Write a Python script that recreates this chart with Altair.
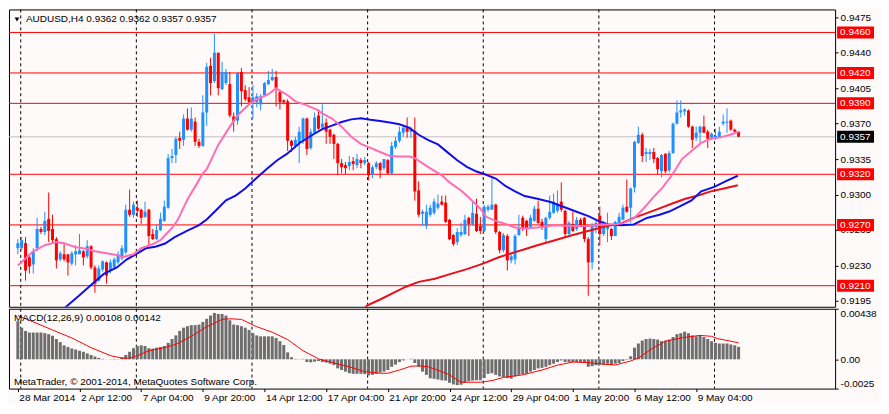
import json
import altair as alt
import pandas as pd

# ---------------- data ----------------
# AUDUSD H4 bars, prices in units of 0.0001
open_pips = [
    9247, 9247, 9252, 9238, 9231, 9247, 9266, 9263, 9276, 9266,
    9256, 9236, 9241, 9241, 9232, 9241, 9241, 9244, 9239, 9249,
    9228, 9215, 9226, 9233, 9225, 9228, 9233, 9237, 9243, 9285,
    9280, 9287, 9285, 9278, 9285, 9261, 9256, 9265, 9274, 9287,
    9336, 9339, 9356, 9354, 9375, 9364, 9372, 9352, 9348, 9381,
    9427, 9412, 9440, 9404, 9410, 9409, 9377, 9373, 9421, 9403,
    9396, 9393, 9391, 9389, 9398, 9409, 9413, 9416, 9401, 9393,
    9392, 9353, 9348, 9351, 9354, 9375, 9346, 9361, 9378, 9366,
    9371, 9364, 9359, 9350, 9331, 9329, 9328, 9333, 9329, 9334,
    9331, 9331, 9320, 9327, 9331, 9326, 9334, 9321, 9347, 9353,
    9361, 9367, 9362, 9363, 9304, 9281, 9269, 9280, 9282, 9287,
    9293, 9292, 9275, 9260, 9253, 9260, 9261, 9277, 9271, 9281,
    9269, 9264, 9285, 9285, 9290, 9263, 9245, 9259, 9235, 9236,
    9260, 9277, 9274, 9268, 9274, 9286, 9273, 9256, 9277, 9282,
    9284, 9293, 9284, 9261, 9271, 9266, 9275, 9277, 9256, 9233,
    9268, 9279, 9261, 9266, 9266, 9259, 9272, 9275, 9288, 9287,
    9307, 9351, 9359, 9340, 9340, 9342, 9336, 9323, 9340, 9324,
    9341, 9370, 9381, 9382, 9383, 9367, 9356, 9361, 9367, 9362,
    9356, 9355, 9357, 9370, 9371, 9373, 9364, 9362,
]
high_pips = [
    9256, 9258, 9258, 9241, 9247, 9277, 9268, 9283, 9302, 9280,
    9258, 9244, 9252, 9241, 9244, 9250, 9261, 9245, 9255, 9250,
    9230, 9230, 9235, 9234, 9236, 9238, 9244, 9250, 9290, 9305,
    9293, 9294, 9286, 9293, 9286, 9266, 9270, 9282, 9294, 9340,
    9345, 9357, 9362, 9379, 9385, 9386, 9376, 9355, 9398, 9430,
    9435, 9459, 9440, 9431, 9424, 9421, 9381, 9421, 9425, 9408,
    9406, 9408, 9400, 9399, 9411, 9422, 9424, 9422, 9403, 9394,
    9394, 9354, 9357, 9367, 9376, 9376, 9365, 9381, 9384, 9389,
    9375, 9365, 9360, 9351, 9335, 9332, 9338, 9337, 9340, 9336,
    9337, 9332, 9329, 9333, 9332, 9335, 9335, 9352, 9357, 9367,
    9368, 9376, 9367, 9376, 9313, 9285, 9290, 9290, 9296, 9300,
    9299, 9299, 9276, 9261, 9267, 9272, 9280, 9278, 9293, 9296,
    9278, 9290, 9290, 9316, 9291, 9264, 9262, 9261, 9241, 9261,
    9280, 9279, 9275, 9280, 9289, 9294, 9276, 9278, 9299, 9301,
    9304, 9312, 9285, 9274, 9283, 9278, 9277, 9278, 9258, 9272,
    9274, 9288, 9274, 9282, 9267, 9274, 9282, 9290, 9315, 9307,
    9353, 9367, 9361, 9346, 9345, 9346, 9337, 9340, 9341, 9343,
    9371, 9393, 9393, 9385, 9384, 9368, 9367, 9368, 9378, 9364,
    9361, 9365, 9367, 9379, 9385, 9374, 9365, 9362,
]
low_pips = [
    9241, 9245, 9215, 9222, 9222, 9244, 9261, 9260, 9253, 9253,
    9227, 9234, 9234, 9220, 9230, 9230, 9241, 9230, 9237, 9226,
    9203, 9214, 9224, 9212, 9222, 9226, 9231, 9235, 9241, 9278,
    9277, 9278, 9271, 9277, 9250, 9255, 9255, 9264, 9273, 9286,
    9331, 9331, 9345, 9348, 9363, 9362, 9348, 9346, 9347, 9368,
    9398, 9410, 9398, 9403, 9408, 9376, 9362, 9369, 9387, 9392,
    9389, 9375, 9386, 9383, 9397, 9408, 9412, 9387, 9384, 9389,
    9343, 9342, 9346, 9331, 9350, 9339, 9344, 9360, 9364, 9365,
    9350, 9350, 9335, 9319, 9321, 9320, 9324, 9324, 9326, 9326,
    9329, 9314, 9316, 9325, 9316, 9324, 9320, 9320, 9345, 9351,
    9357, 9356, 9356, 9294, 9278, 9269, 9266, 9278, 9280, 9285,
    9289, 9272, 9255, 9249, 9250, 9258, 9260, 9259, 9269, 9263,
    9261, 9263, 9283, 9285, 9261, 9242, 9243, 9225, 9232, 9231,
    9259, 9264, 9259, 9267, 9273, 9271, 9265, 9253, 9275, 9281,
    9282, 9283, 9258, 9259, 9263, 9264, 9268, 9253, 9200, 9226,
    9262, 9250, 9259, 9253, 9255, 9259, 9271, 9275, 9282, 9272,
    9302, 9350, 9332, 9332, 9334, 9331, 9320, 9317, 9321, 9322,
    9340, 9369, 9376, 9378, 9366, 9346, 9353, 9351, 9361, 9346,
    9354, 9354, 9356, 9368, 9361, 9363, 9361, 9357,
]
close_pips = [
    9252, 9255, 9225, 9229, 9244, 9266, 9263, 9274, 9264, 9255,
    9235, 9242, 9236, 9233, 9242, 9244, 9245, 9238, 9249, 9228,
    9212, 9227, 9234, 9220, 9233, 9236, 9241, 9247, 9285, 9280,
    9290, 9284, 9277, 9283, 9259, 9256, 9265, 9276, 9288, 9336,
    9338, 9355, 9353, 9375, 9364, 9375, 9352, 9348, 9381, 9426,
    9410, 9440, 9405, 9421, 9421, 9378, 9372, 9420, 9402, 9394,
    9391, 9396, 9397, 9397, 9410, 9413, 9416, 9405, 9391, 9391,
    9353, 9348, 9354, 9362, 9375, 9345, 9362, 9376, 9365, 9370,
    9362, 9357, 9350, 9331, 9327, 9326, 9332, 9330, 9335, 9331,
    9334, 9319, 9327, 9331, 9324, 9335, 9321, 9348, 9353, 9362,
    9366, 9362, 9365, 9303, 9280, 9283, 9283, 9287, 9293, 9291,
    9290, 9273, 9256, 9251, 9263, 9263, 9275, 9271, 9282, 9264,
    9264, 9288, 9288, 9290, 9263, 9245, 9260, 9235, 9239, 9259,
    9268, 9266, 9266, 9277, 9286, 9272, 9268, 9277, 9283, 9293,
    9291, 9285, 9261, 9272, 9264, 9275, 9270, 9256, 9233, 9269,
    9272, 9261, 9272, 9269, 9259, 9273, 9278, 9287, 9283, 9306,
    9352, 9359, 9338, 9342, 9342, 9335, 9325, 9339, 9323, 9341,
    9370, 9381, 9383, 9384, 9367, 9354, 9361, 9367, 9361, 9355,
    9360, 9358, 9362, 9372, 9372, 9364, 9362, 9357,
]

# moving averages: (bar index, price in 0.0001)
pink_bar = [0, 4, 7, 10, 12, 15, 17, 20, 23, 26, 27, 30, 32, 35, 37, 39, 40, 41.5, 44, 46.5,
            48, 49, 52, 55, 57, 60, 62, 65, 67, 70, 72, 75, 78, 79, 81.5, 84, 86.5, 89, 91.5, 94,
            96.5, 99, 101.5, 103, 106.5, 110, 112, 115, 117, 120, 121.5, 124, 126.5, 129, 131.5,
            134.8, 139, 144, 148, 151.5, 155, 157.3, 160, 162.3, 164.8, 167.3, 169.8, 172.3,
            174.8, 177.3, 179.8, 182.3, 184.8, 187]
pink_val = [9230, 9244, 9250, 9253, 9252, 9248, 9247, 9244, 9242, 9240, 9238, 9241, 9247, 9251,
            9255, 9263, 9267, 9275, 9295, 9311, 9321, 9325, 9349, 9367, 9378, 9389, 9394, 9399,
            9405, 9398, 9392, 9388, 9383, 9380, 9375, 9367, 9357, 9350, 9346, 9342, 9338, 9337.5,
            9337.5, 9336, 9327, 9319, 9312, 9304, 9297, 9286, 9278, 9274, 9271, 9267.5, 9266.5,
            9267.4, 9269.6, 9269, 9269, 9270.5, 9270.5, 9272, 9277, 9286, 9297, 9307, 9319.5,
            9335, 9343, 9351, 9355, 9356.4, 9359, 9362]
blue_bar = [11, 12.75, 15.7, 19, 22.3, 25.7, 28.2, 30.7, 33.2, 35.7, 38.2, 40.7, 44, 46.9, 49,
            51.5, 54, 56.5, 59, 61.5, 64.8, 67.3, 69.8, 73.2, 76.5, 79, 81.5, 84, 86.5, 89, 91.5,
            94, 96.5, 99, 101.5, 104, 106.5, 109, 111.5, 114, 116.5, 119, 121.5, 124, 126.5, 129,
            131.5, 134.8, 138.2, 141.5, 144.8, 148.2, 150.7, 153.2, 156.5, 159.8, 163.2, 166.5,
            169, 171.5, 174.8, 177.3, 180.7, 184, 186.8]
blue_val = [9184, 9190, 9199.5, 9210.6, 9221.6, 9228, 9235.8, 9241.2, 9246.9, 9248.5, 9251.6,
            9257.9, 9264.3, 9269.6, 9275.3, 9284.8, 9294.3, 9299, 9306, 9314.8, 9325.9, 9333.8,
            9340.1, 9351.1, 9359, 9364.5, 9368, 9371.6, 9374.2, 9375.4, 9373.8, 9372.6, 9371,
            9369.4, 9366, 9359, 9353.6, 9349.5, 9341.6, 9333.8, 9327.4, 9322.7, 9319.5, 9315.8,
            9308.5, 9303.1, 9298.5, 9295.8, 9292.6, 9287.9, 9283.2, 9278.4, 9273.7, 9270.5,
            9269.6, 9270.5, 9276.9, 9280, 9283.2, 9287.9, 9294.2, 9303.1, 9307.5, 9313.8, 9318.5]
red_bar = [89.5, 90.7, 94, 97.3, 100.7, 104, 108.2, 112.3, 116.5, 120.7, 124.8, 129, 131.5, 134.8,
           139.8, 144, 148.2, 152.3, 156.5, 159.8, 163.2, 166.5, 169.8, 173.2, 176.5, 179.8,
           183.2, 186.8]
red_val = [9186, 9190.7, 9196.4, 9202.7, 9209, 9213.8, 9216.9, 9221.7, 9226.4, 9231.8, 9238.1,
           9243.1, 9246, 9250, 9255.4, 9260.1, 9264.2, 9268.3, 9271.5, 9276.9, 9281.6, 9286.3,
           9291.1, 9295.8, 9299, 9303.1, 9305.9, 9309.1]

# MACD(12,26,9) histogram per bar, units of 0.0001
macd_hist = [
    32.9, 27.4, 24.6, 23.2, 23.2, 23.2, 23.2, 22.6, 21.8, 20.4,
    17.6, 14.9, 12.1, 10.7, 9.3, 8.5, 7.4, 6.5, 5.1, 3.7,
    2.4, 1.2, 0.4, 0.1, -0.2, -0.3, 0.2, 1.8, 3.7, 6.5,
    9.6, 11.5, 12.1, 11.5, 9.6, 9.3, 10.1, 10.7, 11.5, 14.3,
    17.6, 20.7, 24.6, 27.4, 28.7, 29.6, 29.6, 30.1, 32.4, 35.1,
    37.9, 40.1, 39.3, 39.3, 37.9, 33.8, 30.1, 29.6, 28.7, 27.4,
    25.4, 22.6, 20.7, 19.9, 19.9, 19.9, 19.9, 18.5, 15.7, 12.4,
    6.0, 1.8, 0.4, 0.2, 0.4, -2.4, -2.6, -2.1, -1.5, -2.4,
    -2.9, -3.8, -5.1, -7.9, -9.3, -10.7, -12.1, -12.6, -12.6, -12.6,
    -12.9, -14.0, -13.5, -12.6, -11.5, -10.7, -9.3, -6.5, -4.6, -2.4,
    -1.0, 0.1, 0.4, -3.2, -6.5, -10.7, -13.5, -16.5, -17.0, -17.6,
    -18.2, -18.5, -20.4, -21.8, -22.4, -22.1, -20.4, -19.0, -18.5, -18.2,
    -18.2, -16.3, -12.6, -12.1, -13.5, -14.9, -15.4, -16.3, -16.8, -14.9,
    -13.5, -12.9, -12.6, -10.7, -9.3, -7.9, -7.4, -6.5, -5.1, -3.8,
    -2.4, -1.0, -2.4, -2.4, -2.4, -2.4, -2.4, -3.2, -6.5, -6.0,
    -5.1, -4.6, -4.6, -3.8, -5.1, -3.8, -3.2, -1.5, -0.4, 2.6,
    10.1, 13.7, 16.2, 17.6, 17.9, 17.6, 17.1, 15.7, 16.2, 17.1,
    19.3, 21.8, 22.6, 24.0, 22.6, 20.7, 19.9, 20.4, 19.3, 17.6,
    15.7, 14.3, 13.7, 13.7, 13.7, 12.9, 12.1, 10.8,
]
signal_bar = [0, 1, 4, 9, 14, 19, 24, 27, 29, 31, 34, 38, 41, 45, 49, 53, 55, 58, 62, 66, 70, 74,
              78, 82, 86, 90, 94, 96, 99, 102, 104, 106.5, 110, 112, 115, 120, 123, 126, 131, 136,
              140, 144, 148, 152, 155, 159, 161, 165, 168, 173, 177, 180, 181.5, 185, 187]
signal_val = [37.9, 36.5, 32.4, 25.4, 18.5, 10.1, 3.2, 1.0, 1.0, 3.2, 7.4, 10.1, 12.9, 19.9, 28.2,
              34.6, 35.1, 34.6, 28.2, 23.5, 17.1, 7.4, 0.4, -3.2, -6.5, -10.7, -12.1, -12.1, -9.3,
              -6.0, -5.7, -6.5, -10.7, -13.5, -19.9, -19.9, -18.5, -15.7, -13.5, -9.3, -5.1, -2.4,
              -2.9, -4.3, -4.9, -1.5, 1.2, 10.1, 15.7, 19.0, 20.7, 19.9, 17.9, 15.7, 14.2]

x_label_bars = [0, 16, 32, 48, 64, 80, 96, 112, 128, 144, 160, 176]
x_labels = ["28 Mar 2014", "2 Apr 12:00", "7 Apr 04:00", "9 Apr 20:00", "14 Apr 12:00",
            "17 Apr 04:00", "21 Apr 20:00", "24 Apr 12:00", "29 Apr 04:00", "1 May 20:00",
            "6 May 12:00", "9 May 04:00"]
grid_bars = [0.75, 30.75, 60.75, 90.75, 120.75, 150.75, 180.75]
price_ticks = [0.9475, 0.9440, 0.9405, 0.9370, 0.9335, 0.9300, 0.9265, 0.9230, 0.9195]
red_levels = [0.9460, 0.9420, 0.9390, 0.9320, 0.9270, 0.9210]
red_level_labels = ["0.9460", "0.9420", "0.9390", "0.9320", "0.9270", "0.9210"]
current_price = 0.9357
current_label = "0.9357"
macd_ticks = [0.00438, 0.0, -0.0025]
macd_tick_labels = ["0.00438", "0.00", "-0.0025"]
main_title = "AUDUSD,H4  0.9362 0.9362 0.9357 0.9357"
macd_title = "MACD(12,26,9) 0.00108 0.00142"
copyright_text = "MetaTrader, \u00a9 2001-2014, MetaQuotes Software Corp."

# ---------------- tables ----------------
bars = pd.DataFrame({
    "bar": list(range(len(open_pips))),
    "open": [v / 10000 for v in open_pips],
    "high": [v / 10000 for v in high_pips],
    "low": [v / 10000 for v in low_pips],
    "close": [v / 10000 for v in close_pips],
})
bars["color"] = ["#1E90FF" if c >= o else "#FF0000" for o, c in zip(open_pips, close_pips)]

pink = pd.DataFrame({"bar": pink_bar, "v": [v / 10000 for v in pink_val]})
blue = pd.DataFrame({"bar": blue_bar, "v": [v / 10000 for v in blue_val]})
redma = pd.DataFrame({"bar": red_bar, "v": [v / 10000 for v in red_val]})
hist = pd.DataFrame({"bar": list(range(len(macd_hist))),
                     "v": [v / 10000 for v in macd_hist],
                     "base": [0.0] * len(macd_hist)})
signal = pd.DataFrame({"bar": signal_bar, "v": [v / 10000 for v in signal_val]})
grid = pd.DataFrame({"bar": grid_bars})
levels = pd.DataFrame({"price": red_levels})
boxes = pd.DataFrame({"price": red_levels + [current_price],
                      "label": red_level_labels + [current_label],
                      "fill": ["#FF0000"] * len(red_levels) + ["#000000"]})
cur = pd.DataFrame({"price": [current_price]})

# ---------------- layout ----------------
W, H1, H2 = 828, 298, 80
FONT = "Liberation Sans"
BG = "#FFFAFA"

xs = alt.Scale(domain=[-1, 210.75], nice=False, zero=False)
ys = alt.Scale(domain=[0.91892, 0.94827], nice=False, zero=False)
ms = alt.Scale(domain=[-0.00254, 0.00438], nice=False, zero=False)

yaxis = alt.Axis(orient="right", values=price_ticks, format=".4f", title=None,
                 labelOverlap=False, labelFlush=False, tickSize=3, labelPadding=2)
lab_expr = "datum.value > 0.001 ? %s : (datum.value < -0.001 ? %s : %s)" % (
    json.dumps(macd_tick_labels[0]), json.dumps(macd_tick_labels[2]), json.dumps(macd_tick_labels[1]))
maxis = alt.Axis(orient="right", values=macd_ticks, labelExpr=lab_expr, title=None,
                 labelOverlap=False, labelFlush=True, tickSize=3, labelPadding=2)
xlab_expr = json.dumps(x_labels) + "[round(datum.value / 16)]"
xaxis = alt.Axis(orient="bottom", values=x_label_bars, labelExpr=xlab_expr, title=None,
                 labelAlign="left", labelBaseline="top", labelFlush=False, labelOverlap=False,
                 tickSize=3, labelPadding=1, labelOffset=1)

def X(axis=None):
    return alt.X("bar:Q", scale=xs, axis=axis)

# main price panel
lv = alt.Chart(levels).mark_rule(color="#FF0000", strokeWidth=1).encode(
    y=alt.Y("price:Q", scale=ys, axis=yaxis))
curline = alt.Chart(cur).mark_rule(color="#C0C0C0", strokeWidth=1).encode(
    y=alt.Y("price:Q", scale=ys, axis=yaxis))
gridm = alt.Chart(grid).mark_rule(color="black", strokeDash=[3, 3], strokeWidth=1).encode(x=X())
wick = alt.Chart(bars).mark_rule(strokeWidth=1).encode(
    x=X(), y=alt.Y("low:Q", scale=ys, axis=yaxis), y2="high:Q",
    color=alt.Color("color:N", scale=None))
body = alt.Chart(bars).mark_bar(size=3).encode(
    x=X(), y=alt.Y("open:Q", scale=ys, axis=yaxis), y2="close:Q",
    color=alt.Color("color:N", scale=None))
l_red = alt.Chart(redma).mark_line(color="#E8101A", strokeWidth=2, clip=True).encode(
    x=X(), y=alt.Y("v:Q", scale=ys, axis=yaxis))
l_blue = alt.Chart(blue).mark_line(color="#1010E8", strokeWidth=2, clip=True).encode(
    x=X(), y=alt.Y("v:Q", scale=ys, axis=yaxis))
l_pink = alt.Chart(pink).mark_line(color="#FF6EB4", strokeWidth=2, clip=True).encode(
    x=X(), y=alt.Y("v:Q", scale=ys, axis=yaxis))
box = alt.Chart(boxes).mark_rule(strokeWidth=12, strokeCap="butt").encode(
    x=alt.value(W + 2), x2=alt.value(W + 39),
    y=alt.Y("price:Q", scale=ys, axis=yaxis), color=alt.Color("fill:N", scale=None))
boxtxt = alt.Chart(boxes).mark_text(align="left", baseline="middle", color="white",
                                    font=FONT, fontSize=10).encode(
    x=alt.value(W + 5), y=alt.Y("price:Q", scale=ys, axis=yaxis), text="label:N")
tdf = pd.DataFrame({"t": [main_title]})
tri = alt.Chart(tdf).mark_point(shape="triangle-down", filled=True, size=22, color="black",
                                opacity=1).encode(x=alt.value(8), y=alt.value(10))
ttl = alt.Chart(tdf).mark_text(align="left", baseline="middle", font=FONT, fontSize=10,
                               color="black").encode(x=alt.value(17), y=alt.value(10), text="t:N")

main = alt.layer(lv, curline, gridm, wick, body, l_red, l_blue, l_pink, box, boxtxt, tri, ttl
                 ).properties(width=W, height=H1)

# MACD panel
gridb = alt.Chart(grid).mark_rule(color="black", strokeDash=[3, 3], strokeWidth=1).encode(
    x=X(xaxis))
hbars = alt.Chart(hist).mark_bar(size=3, color="#6E6E6E").encode(
    x=X(xaxis), y=alt.Y("v:Q", scale=ms, axis=maxis), y2="base:Q")
sig = alt.Chart(signal).mark_line(color="#FF0000", strokeWidth=1).encode(
    x=X(xaxis), y=alt.Y("v:Q", scale=ms, axis=maxis))
mt = alt.Chart(pd.DataFrame({"t": [macd_title]})).mark_text(
    align="left", baseline="middle", font=FONT, fontSize=10, color="black").encode(
    x=alt.value(5), y=alt.value(9), text="t:N")
cp = alt.Chart(pd.DataFrame({"t": [copyright_text]})).mark_text(
    align="left", baseline="middle", font=FONT, fontSize=10, color="black").encode(
    x=alt.value(5), y=alt.value(H2 - 7), text="t:N")

macd = alt.layer(gridb, hbars, sig, mt, cp).properties(width=W, height=H2)

chart = alt.vconcat(main, macd, spacing=2, bounds="flush").properties(
    padding={"left": 0, "top": 0, "right": 0, "bottom": 0}
).configure(background=BG).configure_view(
    stroke="black", strokeWidth=1, fill=BG
).configure_axis(
    labelFont=FONT, labelFontSize=10, labelColor="black", tickColor="black",
    domain=False, grid=False
)

chart.save("out.html", embed_options={"renderer": "svg", "actions": False})
